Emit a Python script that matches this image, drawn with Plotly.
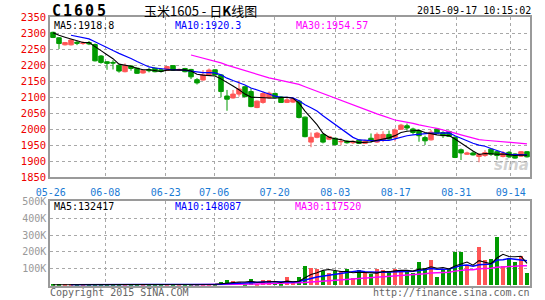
import plotly.graph_objects as go
import pandas as pd

W, H = 545, 300

# ---------------- data ----------------
tick_labels = ["05-26", "06-08", "06-23", "07-06", "07-20", "08-03", "08-17", "08-31", "09-14"]
tick_bar = [0, 9, 19, 27, 37, 47, 57, 67, 76]

open_ = [2303, 2286, 2264, 2264, 2272, 2268, 2271, 2265, 2229, 2211,
         2209, 2200, 2180, 2198, 2191, 2176, 2187, 2191, 2186, 2184,
         2199, 2185, 2190, 2187, 2155, 2154, 2169, 2186, 2170, 2104,
         2098, 2110, 2133, 2118, 2068, 2084, 2098, 2112, 2101, 2084,
         2085, 2088, 2038, 1960, 1975, 1984, 1969, 1972, 1961, 1963,
         1958, 1966, 1956, 1972, 1960, 1967, 1984, 1975, 2000, 2011,
         2001, 1995, 1974, 1967, 2001, 1990, 1993, 1975, 1936, 1922,
         1926, 1915, 1918, 1938, 1930, 1915, 1928, 1923, 1916, 1930]
high = [2305, 2288, 2273, 2282, 2277, 2275, 2276, 2268, 2232, 2213,
        2216, 2202, 2206, 2200, 2193, 2186, 2192, 2193, 2190, 2198,
        2200, 2190, 2192, 2189, 2160, 2185, 2190, 2188, 2172, 2123,
        2123, 2152, 2136, 2128, 2090, 2118, 2118, 2115, 2104, 2100,
        2098, 2092, 2040, 1990, 1992, 1986, 1980, 1974, 1972, 1966,
        1965, 1968, 1968, 1987, 1990, 1994, 1996, 2003, 2017, 2018,
        2005, 2000, 1980, 1998, 2003, 1994, 1996, 1978, 1940, 1930,
        1931, 1926, 1935, 1940, 1933, 1932, 1932, 1925, 1932, 1932]
low = [2285, 2251, 2262, 2262, 2263, 2264, 2263, 2212, 2205, 2186,
       2187, 2177, 2178, 2183, 2173, 2174, 2178, 2178, 2177, 2182,
       2183, 2182, 2178, 2157, 2140, 2152, 2167, 2168, 2100, 2058,
       2096, 2102, 2100, 2069, 2066, 2080, 2095, 2098, 2082, 2082,
       2082, 2034, 1975, 1944, 1972, 1956, 1966, 1950, 1950, 1955,
       1954, 1954, 1954, 1959, 1957, 1960, 1967, 1962, 1998, 1996,
       1984, 1961, 1951, 1965, 1986, 1973, 1976, 1910, 1904, 1920,
       1918, 1897, 1914, 1917, 1905, 1912, 1910, 1908, 1914, 1912]
close = [2287, 2268, 2271, 2279, 2269, 2270, 2267, 2214, 2209, 2206,
         2207, 2182, 2199, 2190, 2175, 2184, 2183, 2180, 2181, 2196,
         2185, 2187, 2180, 2164, 2145, 2170, 2185, 2170, 2118, 2094,
         2110, 2126, 2102, 2071, 2088, 2112, 2113, 2100, 2084, 2092,
         2095, 2037, 1977, 1975, 1988, 1960, 1977, 1952, 1962, 1958,
         1962, 1956, 1963, 1965, 1984, 1984, 1970, 1998, 2013, 2004,
         1990, 1980, 1964, 1991, 1988, 1980, 1978, 1912, 1926, 1926,
         1920, 1922, 1927, 1922, 1918, 1926, 1914, 1910, 1930, 1914]
# closes of the sessions before the window (feed the moving averages)
pre_close = [2300, 2312, 2310, 2300, 2308, 2305]

volume = [6000, 5000, 7000, 5000, 6000, 4000, 5000, 8000, 7000, 6000,
          5000, 6000, 7000, 5000, 6000, 5000, 4000, 6000, 5000, 7000,
          6000, 5000, 6000, 7000, 8000, 9500, 9500, 9500, 21000, 32000,
          27000, 21000, 9000, 38000, 8000, 32000, 32000, 13000, 9000, 49000,
          13000, 49000, 117000, 106000, 100000, 83000, 72000, 83000, 83000, 100000,
          44730, 89000, 71000, 70000, 97000, 92000, 83000, 97000, 89000, 92000,
          72000, 140000, 106000, 152000, 49000, 92000, 96000, 196000, 200000, 117000,
          0, 230000, 148000, 156000, 284785, 112000, 163000, 141000, 172000, 74085]
pre_volume = [5000, 6000, 4000, 5000, 7000, 6000]

vol_ticks = [100000, 200000, 300000, 400000, 500000]
vol_tick_text = ["100K", "200K", "300K", "400K", "500K"]

# ---------------- derived ----------------
n = len(close)
idx = list(range(n))
np_pre = len(pre_close)
cs = pd.Series(pre_close + close, dtype=float)
ma = {p: cs.rolling(p).mean().iloc[np_pre:].tolist() for p in (5, 10, 30)}
vs = pd.Series(pre_volume + volume, dtype=float)
vma = {p: vs.rolling(p).mean().iloc[len(pre_volume):].tolist() for p in (5, 10, 30)}

RED = "#ff5555"
GREEN = "#009a00"
BLUE = "#0000ff"
MAG = "#ff00ff"
MONO = "DejaVu Sans Mono"

vol_colors = [RED if c >= o else GREEN for o, c in zip(open_, close)]

# pixel-based layout helpers
def px_x(p):
    return p / W

def px_y(p):
    return 1 - p / H

main_dom = [px_y(177.3), px_y(17.3)]
vol_dom = [px_y(285.7), px_y(201.3)]
x_dom = [px_x(50), px_x(530)]
tick_pos = [k * 1.0088 - 0.38 for k in tick_bar]

fig = go.Figure()
fig.add_trace(go.Candlestick(
    x=idx, open=open_, high=high, low=low, close=close,
    increasing=dict(line=dict(color=RED, width=1), fillcolor=RED),
    decreasing=dict(line=dict(color=GREEN, width=1), fillcolor=GREEN),
    whiskerwidth=0, xaxis="x", yaxis="y", showlegend=False, hoverinfo="skip"))
for p, col, wd in ((30, MAG, 1.2), (10, BLUE, 1.2), (5, "#000000", 1.1)):
    fig.add_trace(go.Scatter(x=idx, y=ma[p], mode="lines", line=dict(color=col, width=wd),
                             xaxis="x", yaxis="y", showlegend=False, hoverinfo="skip"))

fig.add_trace(go.Bar(x=idx, y=volume, marker=dict(color=vol_colors, line=dict(width=0)),
                     width=0.78, xaxis="x2", yaxis="y2", showlegend=False, hoverinfo="skip"))
for p, col, wd in ((30, MAG, 1.5), (10, BLUE, 1.5), (5, "#000000", 1.1)):
    fig.add_trace(go.Scatter(x=idx, y=vma[p], mode="lines", line=dict(color=col, width=wd),
                             xaxis="x2", yaxis="y2", showlegend=False, hoverinfo="skip"))

grid = dict(showgrid=True, gridcolor="#a8a8a8", griddash="dot", gridwidth=1,
            showline=True, mirror=True, linecolor="#9a9a9a", linewidth=1.5, zeroline=False,
            automargin=False)

fig.update_layout(
    width=W, height=H, margin=dict(l=0, r=0, t=0, b=0, autoexpand=False),
    paper_bgcolor="white", plot_bgcolor="white",
    boxgap=0.25, boxgroupgap=0, bargap=0,
    xaxis=dict(domain=x_dom, anchor="y", range=[-0.5, n - 0.5], tickmode="array",
               tickvals=tick_pos, ticktext=tick_labels, ticks="outside", ticklen=5,
               tickcolor="rgba(0,0,0,0)", tickfont=dict(family=MONO, size=10, color="#1a7ad4"),
               rangeslider=dict(visible=False), **grid),
    yaxis=dict(domain=main_dom, anchor="x", range=[1850, 2350], tickmode="array",
               tickvals=list(range(1850, 2351, 50)),
               tickfont=dict(family=MONO, size=10.5, color="#ee0000"), **grid),
    xaxis2=dict(domain=x_dom, anchor="y2", range=[-0.5, n - 0.5], tickmode="array",
                tickvals=tick_pos, showticklabels=False, **grid),
    yaxis2=dict(domain=vol_dom, anchor="x2", range=[0, 500000], tickmode="array",
                tickvals=vol_ticks, ticktext=vol_tick_text,
                tickfont=dict(family=MONO, size=10, color="#999999"), **grid),
)

anns = []

def ann(text, px, py, color="#000000", size=10, xanchor="left", family=MONO, **kw):
    anns.append(dict(text=text, x=px_x(px), y=px_y(py), xref="paper", yref="paper",
                     xanchor=xanchor, yanchor="middle", showarrow=False, borderpad=0,
                     font=dict(family=family, size=size, color=color), **kw))

for i, ch in enumerate("C1605"):
    ann("<b>" + ch + "</b>", 56.3 + 11.2 * i, 11, size=15, xanchor="center")
ann("玉米1605 - 日<b>K</b>线图", 200.7, 11, size=13, xanchor="center", family="Noto Sans CJK SC")
ann("2015-09-17 10:15:02", 532, 11, xanchor="right")

ann("MA5:%.1f" % ma[5][-1], 53, 25.5)
ann("MA10:%.1f" % ma[10][-1], 174, 25.5, color=BLUE)
ann("MA30:%.2f" % ma[30][-1], 295, 25.5, color=MAG)

ann("MA5:%d" % round(vma[5][-1]), 53, 206.5)
ann("MA10:%d" % round(vma[10][-1]), 174, 206.5, color=BLUE)
ann("MA30:%d" % round(vma[30][-1]), 294, 206.5, color=MAG)

ann("<i><b>sina</b></i>", 511, 165, color="rgba(170,170,170,0.55)", size=15, xanchor="center",
    family="DejaVu Sans")

ann("Copyright 2015 SINA.COM", 49, 292.5, color="#666666")
ann("http://finance.sina.com.cn", 531, 292.5, color="#666666", xanchor="right")

fig.update_layout(annotations=anns)
fig.write_html("out.html")
